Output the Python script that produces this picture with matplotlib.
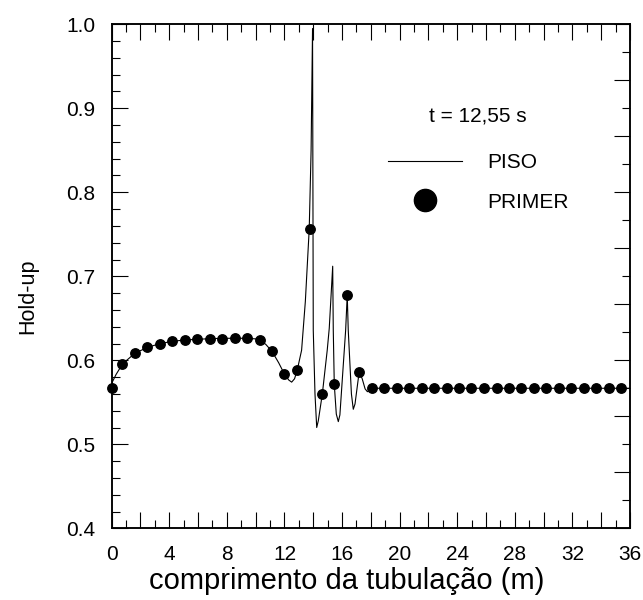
import numpy as np
import matplotlib.pyplot as plt
from matplotlib.lines import Line2D
from matplotlib.ticker import MultipleLocator, FixedLocator

plt.rcParams['font.family'] = ['Liberation Sans', 'DejaVu Sans']

# PISO solution (fine grid line)
piso_x = [0.0, 0.3, 0.75, 1.6, 2.5, 3.35, 4.2, 5.1, 5.95, 6.8, 7.7, 8.5, 9.4,
          10.0, 10.3, 10.7, 11.14, 11.6, 12.0, 12.3, 12.5, 12.7, 12.89, 13.19,
          13.45, 13.72, 13.85, 13.95, 14.0, 14.12, 14.24, 14.35, 14.63, 14.97,
          15.11, 15.35, 15.39, 15.46, 15.6, 15.74, 15.85, 16.25, 16.36, 16.43,
          16.65, 16.78, 16.9, 17.19, 17.4, 17.6, 17.76, 17.9, 18.1, 36.0]
piso_y = [0.5726, 0.583, 0.5956, 0.6083, 0.6155, 0.6198, 0.6226, 0.6242, 0.625,
          0.6257, 0.6262, 0.6262, 0.6262, 0.6255, 0.6238, 0.619, 0.6105, 0.597,
          0.5835, 0.5765, 0.574, 0.578, 0.5885, 0.612, 0.67, 0.7563, 0.85, 0.995,
          0.636, 0.56, 0.52, 0.528, 0.5599, 0.612, 0.638, 0.712, 0.636, 0.5712,
          0.536, 0.527, 0.535, 0.636, 0.6777, 0.636, 0.56, 0.5417, 0.548, 0.5864,
          0.578, 0.566, 0.5626, 0.5645, 0.5667, 0.5667]

# PRIMER solution (cell values)
primer_x = [0.0, 0.75, 1.61, 2.48, 3.34, 4.21, 5.08, 5.94, 6.81, 7.67, 8.54,
            9.41, 10.27, 11.14, 12.00, 12.87, 13.74, 14.60, 15.47, 16.33, 17.20,
            18.07, 18.93, 19.80, 20.66, 21.53, 22.40, 23.26, 24.13, 24.99, 25.86,
            26.73, 27.59, 28.46, 29.32, 30.19, 31.06, 31.92, 32.79, 33.65, 34.52,
            35.39]
primer_y = [0.5674, 0.5956, 0.6083, 0.6155, 0.6198, 0.6226, 0.6242, 0.625,
            0.6257, 0.6257, 0.6262, 0.6262, 0.6238, 0.6105, 0.5835, 0.5885,
            0.7563, 0.5599, 0.5712, 0.6777, 0.5864, 0.5667, 0.5667, 0.5667,
            0.5667, 0.5667, 0.5667, 0.5667, 0.5667, 0.5667, 0.5667, 0.5667,
            0.5667, 0.5667, 0.5667, 0.5667, 0.5667, 0.5667, 0.5667, 0.5667,
            0.5667, 0.5667]

fig = plt.figure(figsize=(6.43, 6.0), dpi=100)
ax = fig.add_axes([0.1737, 0.1195, 0.8061, 0.84])

ax.plot(piso_x, piso_y, color='black', lw=0.8, zorder=2)
ax.plot(primer_x, primer_y, 'o', color='black', ms=6.8, ls='none',
        zorder=3, clip_on=False)

ax.set_xlim(0, 36)
ax.set_ylim(0.4, 1.0)

# x ticks: long every 2, short every 1, labels every 4
ax.xaxis.set_minor_locator(MultipleLocator(1))
ax.set_xticks(np.arange(0, 37, 2))
ax.set_xticklabels([str(v) if v % 4 == 0 else '' for v in range(0, 37, 2)])
ax.yaxis.set_major_locator(MultipleLocator(0.1))
ax.yaxis.set_minor_locator(MultipleLocator(0.02))
ax.yaxis.set_major_formatter(plt.FormatStrFormatter('%.1f'))

ax.tick_params(which='both', direction='in', top=True, right=False,
               labelsize=15, pad=12)
ax.tick_params(which='major', length=11.5, width=0.8)
ax.tick_params(which='minor', length=5.8, width=0.8)

# right axis has its own tick spacing
ax2 = ax.twinx()
ax2.set_ylim(0.4, 1.0)
ax2.yaxis.set_major_locator(FixedLocator([0.4 + k / 15 for k in range(10)]))
ax2.yaxis.set_minor_locator(FixedLocator([0.4 + (2 * k + 1) / 30 for k in range(9)]))
ax2.tick_params(which='both', direction='in', labelright=False)
ax2.tick_params(which='major', length=11.5, width=0.8)
ax2.tick_params(which='minor', length=5.8, width=0.8)

for a in (ax, ax2):
    for s in a.spines.values():
        s.set_linewidth(1.1)

ax.set_xlabel('comprimento da tubulação (m)', fontsize=21)
ax.xaxis.set_label_coords(0.453, -0.077)
ax.set_ylabel('Hold-up', fontsize=15.5)
ax.yaxis.set_label_coords(-0.142, 0.46)

handles = [Line2D([], [], color='black', lw=0.8),
           Line2D([], [], marker='o', color='black', ls='none', ms=16)]
leg = ax.legend(handles, ['PISO', 'PRIMER'], title='t = 12,55 s',
                loc='upper left', bbox_to_anchor=(0.533, 0.837),
                frameon=False, fontsize=15, title_fontsize=15,
                handlelength=3.55, handletextpad=1.2, labelspacing=1.0,
                borderpad=0, borderaxespad=0)
leg._legend_box.sep = 19.8

fig.savefig('out.png', dpi=100)
